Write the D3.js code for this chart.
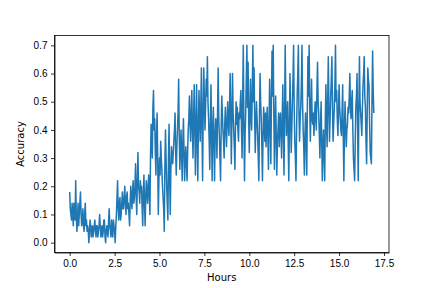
<!DOCTYPE html>
<html>
<head>
<meta charset="utf-8">
<script src="https://cdn.jsdelivr.net/npm/d3@7"></script>
<style>
  body { margin: 0; background: #fff; }
  svg { display: block; font-family: "DejaVu Sans", sans-serif; }
  .axis text { font-size: 10px; fill: #000; }
  .axis path, .axis line { stroke: #000; stroke-width: 0.8; }
</style>
</head>
<body>
<svg id="chart"></svg>
<script>
const width = 432;
const height = 288;
const margin = { top: 35.5, right: 43, bottom: 35.5, left: 54.5 };

// one sample every 2 minutes, one row per hour
const minutesPerSample = 2;
const accuracy = [
  0.18, 0.12, 0.10, 0.08, 0.14, 0.10, 0.06, 0.14, 0.12, 0.08, 0.22, 0.10, 0.04, 0.08, 0.14, 0.06, 0.10, 0.14, 0.18, 0.10, 0.06, 0.08, 0.12, 0.06, 0.04, 0.10, 0.14, 0.06, 0.08, 0.04,
  0.06, 0.04, 0.00, 0.04, 0.08, 0.06, 0.02, 0.04, 0.06, 0.02, 0.04, 0.06, 0.08, 0.04, 0.02, 0.06, 0.06, 0.02, 0.04, 0.06, 0.10, 0.06, 0.02, 0.04, 0.06, 0.02, 0.04, 0.08, 0.08, 0.02,
  0.00, 0.04, 0.06, 0.04, 0.02, 0.08, 0.12, 0.06, 0.04, 0.02, 0.08, 0.04, 0.02, 0.08, 0.06, 0.04, 0.00, 0.06, 0.10, 0.16, 0.22, 0.12, 0.08, 0.14, 0.16, 0.08, 0.10, 0.14, 0.18, 0.12,
  0.12, 0.16, 0.20, 0.14, 0.10, 0.16, 0.18, 0.12, 0.14, 0.10, 0.06, 0.14, 0.20, 0.16, 0.12, 0.18, 0.22, 0.14, 0.16, 0.20, 0.28, 0.16, 0.10, 0.22, 0.32, 0.20, 0.18, 0.14, 0.22, 0.18,
  0.20, 0.12, 0.06, 0.18, 0.24, 0.14, 0.06, 0.16, 0.22, 0.18, 0.14, 0.20, 0.24, 0.16, 0.10, 0.30, 0.42, 0.36, 0.30, 0.48, 0.54, 0.40, 0.44, 0.32, 0.24, 0.38, 0.46, 0.30, 0.10, 0.22,
  0.30, 0.24, 0.36, 0.30, 0.26, 0.20, 0.16, 0.12, 0.04, 0.28, 0.40, 0.30, 0.20, 0.14, 0.08, 0.30, 0.42, 0.22, 0.10, 0.26, 0.34, 0.30, 0.28, 0.32, 0.36, 0.40, 0.46, 0.32, 0.24, 0.34,
  0.40, 0.46, 0.58, 0.38, 0.26, 0.34, 0.40, 0.30, 0.22, 0.36, 0.44, 0.32, 0.22, 0.30, 0.34, 0.28, 0.22, 0.32, 0.40, 0.44, 0.52, 0.42, 0.36, 0.46, 0.54, 0.40, 0.30, 0.44, 0.56, 0.42,
  0.24, 0.40, 0.56, 0.36, 0.22, 0.42, 0.54, 0.44, 0.36, 0.48, 0.62, 0.40, 0.22, 0.46, 0.62, 0.50, 0.40, 0.48, 0.58, 0.52, 0.66, 0.50, 0.44, 0.36, 0.26, 0.42, 0.56, 0.38, 0.22, 0.40,
  0.48, 0.36, 0.22, 0.38, 0.44, 0.40, 0.30, 0.46, 0.62, 0.44, 0.38, 0.30, 0.22, 0.40, 0.52, 0.46, 0.40, 0.36, 0.30, 0.42, 0.48, 0.40, 0.34, 0.44, 0.50, 0.42, 0.38, 0.48, 0.60, 0.46,
  0.28, 0.44, 0.60, 0.46, 0.40, 0.34, 0.26, 0.42, 0.50, 0.42, 0.48, 0.40, 0.36, 0.46, 0.44, 0.50, 0.54, 0.40, 0.30, 0.52, 0.70, 0.42, 0.22, 0.38, 0.46, 0.58, 0.70, 0.48, 0.64, 0.44,
  0.32, 0.46, 0.58, 0.44, 0.40, 0.54, 0.70, 0.50, 0.62, 0.44, 0.32, 0.42, 0.50, 0.44, 0.38, 0.30, 0.22, 0.44, 0.60, 0.50, 0.44, 0.34, 0.22, 0.38, 0.48, 0.42, 0.36, 0.46, 0.34, 0.42,
  0.48, 0.38, 0.26, 0.42, 0.58, 0.44, 0.28, 0.50, 0.68, 0.52, 0.70, 0.46, 0.26, 0.40, 0.52, 0.38, 0.24, 0.36, 0.40, 0.46, 0.34, 0.42, 0.46, 0.38, 0.30, 0.44, 0.56, 0.40, 0.24, 0.46,
  0.70, 0.50, 0.38, 0.44, 0.50, 0.36, 0.22, 0.42, 0.60, 0.46, 0.32, 0.40, 0.50, 0.58, 0.70, 0.48, 0.36, 0.30, 0.22, 0.40, 0.52, 0.60, 0.70, 0.46, 0.36, 0.44, 0.48, 0.56, 0.70, 0.50,
  0.40, 0.34, 0.24, 0.38, 0.46, 0.36, 0.24, 0.48, 0.66, 0.52, 0.70, 0.48, 0.36, 0.46, 0.58, 0.44, 0.42, 0.46, 0.38, 0.44, 0.50, 0.46, 0.40, 0.54, 0.64, 0.50, 0.46, 0.38, 0.30, 0.42,
  0.50, 0.36, 0.22, 0.34, 0.40, 0.30, 0.22, 0.44, 0.56, 0.42, 0.34, 0.50, 0.66, 0.48, 0.36, 0.44, 0.52, 0.58, 0.66, 0.48, 0.36, 0.42, 0.48, 0.56, 0.70, 0.50, 0.54, 0.44, 0.38, 0.46,
  0.56, 0.48, 0.44, 0.40, 0.38, 0.46, 0.56, 0.38, 0.22, 0.40, 0.50, 0.42, 0.34, 0.40, 0.42, 0.48, 0.46, 0.52, 0.60, 0.48, 0.44, 0.50, 0.54, 0.40, 0.30, 0.26, 0.22, 0.36, 0.48, 0.52,
  0.60, 0.40, 0.22, 0.46, 0.66, 0.50, 0.46, 0.42, 0.38, 0.48, 0.56, 0.60, 0.66, 0.52, 0.48, 0.36, 0.28, 0.46, 0.62, 0.58, 0.56, 0.42, 0.32, 0.30, 0.28, 0.50, 0.68, 0.54, 0.46
];
const xTicks = [0, 2.5, 5, 7.5, 10, 12.5, 15, 17.5];
const yTicks = [0, 0.1, 0.2, 0.3, 0.4, 0.5, 0.6, 0.7];

const data = accuracy.map((v, i) => ({ hours: i * minutesPerSample / 60, acc: v }));

const svg = d3.select("#chart").attr("width", width).attr("height", height);

const [x0, x1] = d3.extent(data, d => d.hours);
const xPad = (x1 - x0) * 0.05;
const xScale = d3.scaleLinear()
  .domain([x0 - xPad, x1 + xPad])
  .range([margin.left, width - margin.right]);

const [y0, y1] = d3.extent(data, d => d.acc);
const yPad = (y1 - y0) * 0.05;
const yScale = d3.scaleLinear()
  .domain([y0 - yPad, y1 + yPad])
  .range([height - margin.bottom, margin.top]);

svg.append("path")
  .datum(data)
  .attr("fill", "none")
  .attr("stroke", "#1f77b4")
  .attr("stroke-width", 1.5)
  .attr("stroke-linejoin", "round")
  .attr("d", d3.line().x(d => xScale(d.hours)).y(d => yScale(d.acc)));

svg.append("g")
  .attr("class", "axis")
  .attr("transform", `translate(0, ${height - margin.bottom})`)
  .call(d3.axisBottom(xScale).tickValues(xTicks).tickFormat(d3.format(".1f")).tickSize(3.5).tickPadding(3.5).tickSizeOuter(0));

svg.append("g")
  .attr("class", "axis")
  .attr("transform", `translate(${margin.left}, 0)`)
  .call(d3.axisLeft(yScale).tickValues(yTicks).tickFormat(d3.format(".1f")).tickSize(3.5).tickPadding(3.5).tickSizeOuter(0));

// frame
svg.append("rect")
  .attr("x", margin.left)
  .attr("y", margin.top)
  .attr("width", width - margin.left - margin.right)
  .attr("height", height - margin.top - margin.bottom)
  .attr("fill", "none")
  .attr("stroke", "#000")
  .attr("stroke-width", 0.8);

svg.append("text")
  .attr("x", (margin.left + width - margin.right) / 2)
  .attr("y", 281)
  .attr("text-anchor", "middle")
  .attr("font-size", 10)
  .text("Hours");

svg.append("text")
  .attr("transform", `translate(24, ${(margin.top + height - margin.bottom) / 2}) rotate(-90)`)
  .attr("text-anchor", "middle")
  .attr("font-size", 10)
  .text("Accuracy");
</script>
</body>
</html>
